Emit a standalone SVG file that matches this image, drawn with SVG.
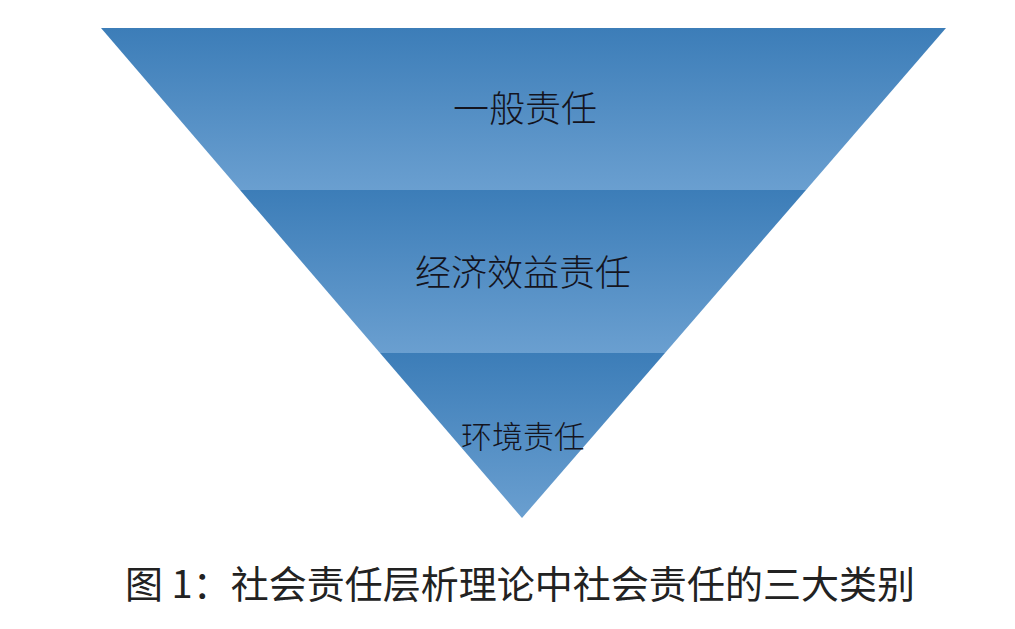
<svg xmlns="http://www.w3.org/2000/svg" width="1015" height="629" viewBox="0 0 1015 629">
<defs>
<linearGradient id="g" x1="0" y1="0" x2="0" y2="1">
<stop offset="0" stop-color="#3c7db8"/>
<stop offset="1" stop-color="#6a9fd0"/>
</linearGradient>
<style>
.lbl{font-family:"Noto Sans CJK SC","Liberation Sans",sans-serif;fill:#14141e;text-anchor:middle;font-weight:300}
.cap{font-family:"Noto Sans CJK SC","Liberation Sans",sans-serif;fill:#222222;font-weight:400}
</style>
</defs>
<rect width="1015" height="629" fill="#ffffff"/>
<g id="band1">
<polygon points="101,28 946,28 806,190 240,190" fill="url(#g)"/>
<text class="lbl" x="525" y="122" font-size="36">一般责任</text>
</g>
<g id="band2">
<polygon points="240,190 806,190 665,353 380,353" fill="url(#g)"/>
<text class="lbl" x="523" y="286" font-size="36">经济效益责任</text>
</g>
<g id="band3">
<polygon points="380,353 665,353 522,518" fill="url(#g)"/>
<text class="lbl" x="523" y="448" font-size="31">环境责任</text>
</g>
<g id="caption">
<text class="cap" x="125" y="598" font-size="38" textLength="790" lengthAdjust="spacing">图 1：社会责任层析理论中社会责任的三大类别</text>
</g>
</svg>
